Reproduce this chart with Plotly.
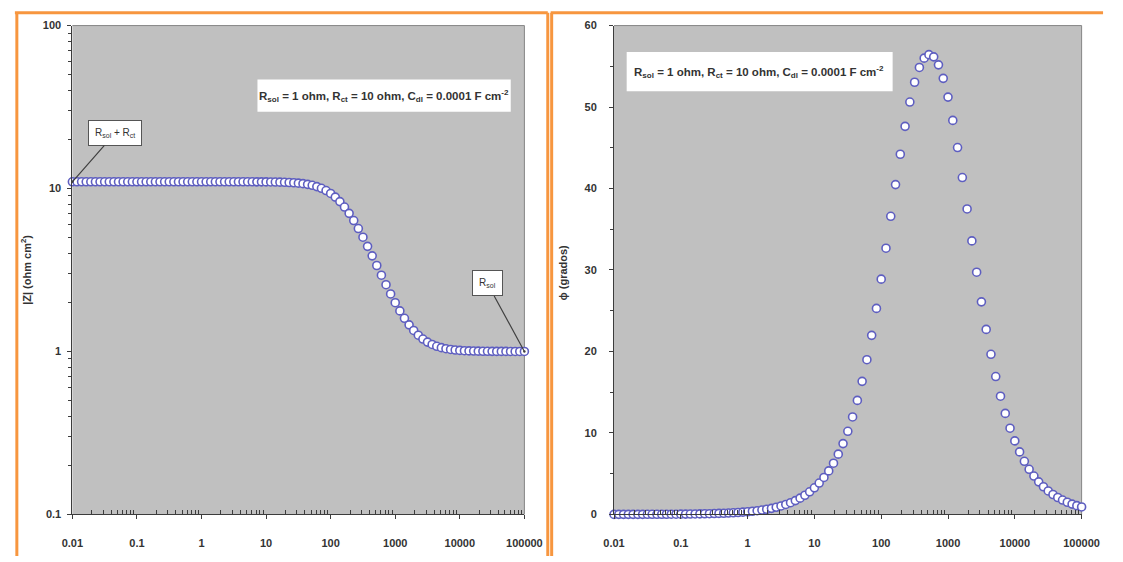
import math
import plotly.graph_objects as go

# Randles cell (Rsol = 1 ohm, Rct = 10 ohm, Cdl = 1e-4 F cm^-2): Bode diagram
freq_hz = [
    0.01, 0.01179, 0.01389, 0.01638, 0.01931, 0.02276, 0.02683, 0.03162, 0.03728, 0.04394, 0.05179, 0.06105, 0.07197, 0.08483,
    0.1, 0.1179, 0.1389, 0.1638, 0.1931, 0.2276, 0.2683, 0.3162, 0.3728, 0.4394, 0.5179, 0.6105, 0.7197, 0.8483,
    1, 1.179, 1.389, 1.638, 1.931, 2.276, 2.683, 3.162, 3.728, 4.394, 5.179, 6.105, 7.197, 8.483,
    10, 11.79, 13.89, 16.38, 19.31, 22.76, 26.83, 31.62, 37.28, 43.94, 51.79, 61.05, 71.97, 84.83,
    100, 117.9, 138.9, 163.8, 193.1, 227.6, 268.3, 316.2, 372.8, 439.4, 517.9, 610.5, 719.7, 848.3,
    1000, 1179, 1389, 1638, 1931, 2276, 2683, 3162, 3728, 4394, 5179, 6105, 7197, 8483,
    10000, 11790, 13890, 16380, 19310, 22760, 26830, 31620, 37280, 43940, 51790, 61050, 71970, 84830,
    100000,
]

z_mod = [
    11.0, 11.0, 11.0, 11.0, 11.0, 11.0, 11.0, 11.0, 11.0, 11.0, 11.0, 11.0, 11.0, 11.0,
    11.0, 11.0, 11.0, 11.0, 11.0, 11.0, 11.0, 11.0, 11.0, 11.0, 11.0, 11.0, 11.0, 11.0,
    10.9998, 10.9997, 10.9996, 10.9994, 10.9992, 10.9989, 10.9985, 10.9978, 10.9970, 10.9958, 10.9942, 10.9920, 10.9888, 10.9845,
    10.9785, 10.9702, 10.9587, 10.9427, 10.9206, 10.8902, 10.8483, 10.7904, 10.7127, 10.6067, 10.4646, 10.2765, 10.0314, 9.7185,
    9.3293, 8.8596, 8.3125, 7.6992, 7.0393, 6.3570, 5.6780, 5.0252, 4.4162, 3.8623, 3.3694, 2.9386, 2.5681, 2.2539,
    1.9911, 1.7744, 1.5981, 1.4569, 1.3453, 1.2586, 1.1920, 1.1416, 1.1038, 1.0758, 1.0551, 1.0400, 1.0289, 1.0209,
    1.0151, 1.0109, 1.0078, 1.0057, 1.0041, 1.0029, 1.0021, 1.0015, 1.0011, 1.0008, 1.0006, 1.0004, 1.0003, 1.0002,
    1.0002,
]

phase_deg = [
    0.0033, 0.0039, 0.0045, 0.0054, 0.0063, 0.0074, 0.0088, 0.0103, 0.0122, 0.0144, 0.0170, 0.0200, 0.0236, 0.0278,
    0.0327, 0.0386, 0.0455, 0.0536, 0.0632, 0.0745, 0.0878, 0.1035, 0.1220, 0.1438, 0.1695, 0.1998, 0.2355, 0.2776,
    0.3273, 0.3858, 0.4548, 0.5360, 0.6319, 0.7448, 0.8780, 1.0349, 1.2199, 1.4377, 1.6944, 1.9970, 2.3536, 2.7735,
    3.268, 3.850, 4.535, 5.340, 6.285, 7.393, 8.690, 10.203, 11.962, 13.996, 16.332, 18.990, 21.978, 25.285,
    28.873, 32.673, 36.59, 40.48, 44.204, 47.63, 50.61, 53.044, 54.86, 56.00, 56.43, 56.16, 55.18, 53.52,
    51.22, 48.36, 45.03, 41.35, 37.49, 33.57, 29.73, 26.09, 22.71, 19.65, 16.92, 14.51, 12.40, 10.58,
    9.02, 7.67, 6.52, 5.54, 4.709, 3.998, 3.394, 2.880, 2.444, 2.074, 1.760, 1.493, 1.267, 1.075,
    0.912,
]

freq_ticks = [0.01, 0.1, 1, 10, 100, 1000, 10000, 100000]
freq_ticktext = ["0.01", "0.1", "1", "10", "100", "1000", "10000", "100000"]
z_ticks = [0.1, 1, 10, 100]
z_ticktext = ["0.1", "1", "10", "100"]
phase_ticks = [0, 10, 20, 30, 40, 50, 60]

params_text = "R<sub>sol</sub> = 1 ohm, R<sub>ct</sub> = 10 ohm, C<sub>dl</sub> = 0.0001 F cm<sup>-2</sup>"

W, H = 1123, 562
FONT = "Liberation Sans, Arial, sans-serif"
INK = "#333333"
AXIS = "#3c3c3c"
ORANGE = "#F7963F"
PLOT_BG = "#C0C0C0"


def fx(px):
    return px / W


def fy(py):
    return 1 - py / H


def log_minor(lo, hi):
    vals = []
    for e in range(lo, hi):
        for m in range(2, 10):
            vals.append(m * 10 ** e)
    return vals


marker = dict(symbol="circle", size=8, color="white",
              line=dict(color="#5E5EC0", width=1.6))

fig = go.Figure()
fig.add_trace(go.Scatter(x=freq_hz, y=z_mod, mode="markers", marker=marker,
                         xaxis="x", yaxis="y", showlegend=False, cliponaxis=False))
fig.add_trace(go.Scatter(x=freq_hz, y=phase_deg, mode="markers", marker=marker,
                         xaxis="x2", yaxis="y2", showlegend=False, cliponaxis=False))

tickfont = dict(family=FONT, size=11, color=INK, weight="bold")
common_axis = dict(showline=True, linecolor=AXIS, linewidth=1, showgrid=False,
                   zeroline=False, ticks="outside", ticklen=4, tickcolor=AXIS,
                   tickfont=tickfont)

y_top, y_bot = 20, 519.5
fig.update_layout(
    width=W, height=H,
    margin=dict(l=0, r=0, t=0, b=0),
    paper_bgcolor="white",
    plot_bgcolor=PLOT_BG,
    xaxis=dict(type="log", range=[-2, 5], domain=[fx(63), fx(527)], anchor="y",
               tickvals=freq_ticks, ticktext=freq_ticktext, ticklabelstandoff=14,
               minor=dict(tickvals=log_minor(-2, 5), ticks="inside", ticklen=4, tickcolor=AXIS),
               **common_axis),
    yaxis=dict(type="log", range=[-1, 2], domain=[fy(y_bot), fy(y_top)], anchor="x",
               tickvals=z_ticks, ticktext=z_ticktext, ticklabelstandoff=4,
               minor=dict(tickvals=log_minor(-1, 2), ticks="outside", ticklen=3, tickcolor=AXIS),
               **common_axis),
    xaxis2=dict(type="log", range=[-2, 5], domain=[fx(619), fx(1099)], anchor="y2",
                tickvals=freq_ticks, ticktext=freq_ticktext, ticklabelstandoff=14,
                minor=dict(tickvals=log_minor(-2, 5), ticks="inside", ticklen=4, tickcolor=AXIS),
                **common_axis),
    yaxis2=dict(range=[0, 60], domain=[fy(y_bot), fy(y_top)], anchor="x2",
                tickvals=phase_ticks, ticklabelstandoff=10,
                minor=dict(dtick=5, ticks="outside", ticklen=3, tickcolor=AXIS),
                **common_axis),
)

shapes = []
# light frame on top/right of each plotting area
for xr, yr in (("x domain", "y domain"), ("x2 domain", "y2 domain")):
    shapes.append(dict(type="line", xref=xr, yref=yr, x0=0, x1=1, y0=1, y1=1,
                       line=dict(color="#858585", width=1)))
    shapes.append(dict(type="line", xref=xr, yref=yr, x0=1, x1=1, y0=0, y1=1,
                       line=dict(color="#858585", width=1), layer="below"))

# white boxes behind the parameter captions
for x0, x1, y0, y1 in ((253, 513, 75, 108), (632, 905, 47, 87)):
    shapes.append(dict(type="rect", xref="paper", yref="paper",
                       x0=fx(x0), x1=fx(x1), y0=fy(y1), y1=fy(y0),
                       fillcolor="white", line=dict(width=0)))

# orange panel frames
for x0, y0, x1, y1 in ((4, 7, 551, 7), (6, 7, 6, 562), (551, 7, 551, 562),
                       (554, 7, 1121, 7), (555, 7, 555, 562)):
    shapes.append(dict(type="line", xref="paper", yref="paper",
                       x0=fx(x0), x1=fx(x1), y0=fy(y0), y1=fy(y1),
                       line=dict(color=ORANGE, width=3)))
fig.update_layout(shapes=shapes)

label_font = dict(family=FONT, size=11.5, color=INK, weight="bold")
title_font = dict(family=FONT, size=11, color=INK, weight="bold")
annotations = [
    dict(text=params_text, xref="paper", yref="paper", x=fx(383), y=fy(92),
         showarrow=False, font=label_font, xanchor="center", yanchor="middle"),
    dict(text=params_text, xref="paper", yref="paper", x=fx(768), y=fy(67),
         showarrow=False, font=label_font, xanchor="center", yanchor="middle"),
    dict(text="|Z| (ohm cm<sup>2</sup>)", xref="paper", yref="paper", x=fx(16), y=fy(270),
         textangle=-90, showarrow=False, xanchor="center", yanchor="middle",
         font=title_font),
    dict(text="\u03d5 (grados)", xref="paper", yref="paper", x=fx(567), y=fy(272),
         textangle=-90, showarrow=False, xanchor="center", yanchor="middle",
         font=title_font),
]

# callouts pointing at the low- and high-frequency limits
callout_font = dict(family=FONT, size=10, color=INK)
annotations.append(dict(
    text="R<sub>sol</sub> + R<sub>ct</sub>", xref="x", yref="y",
    x=math.log10(freq_hz[0]), y=math.log10(z_mod[0]),
    ax=43, ay=-49, showarrow=True, arrowhead=6, arrowsize=0.5, arrowwidth=1.2,
    arrowcolor="#404040", bgcolor="white", bordercolor="#555555", borderwidth=1,
    borderpad=6, font=callout_font))
annotations.append(dict(
    text="R<sub>sol</sub>", xref="x", yref="y",
    x=math.log10(freq_hz[-1]), y=math.log10(z_mod[-1]),
    ax=-37, ay=-68, showarrow=True, arrowhead=6, arrowsize=0.5, arrowwidth=1.2,
    arrowcolor="#404040", bgcolor="white", bordercolor="#555555", borderwidth=1,
    borderpad=6, font=callout_font))
fig.update_layout(annotations=annotations)

fig.write_html("out.html")
